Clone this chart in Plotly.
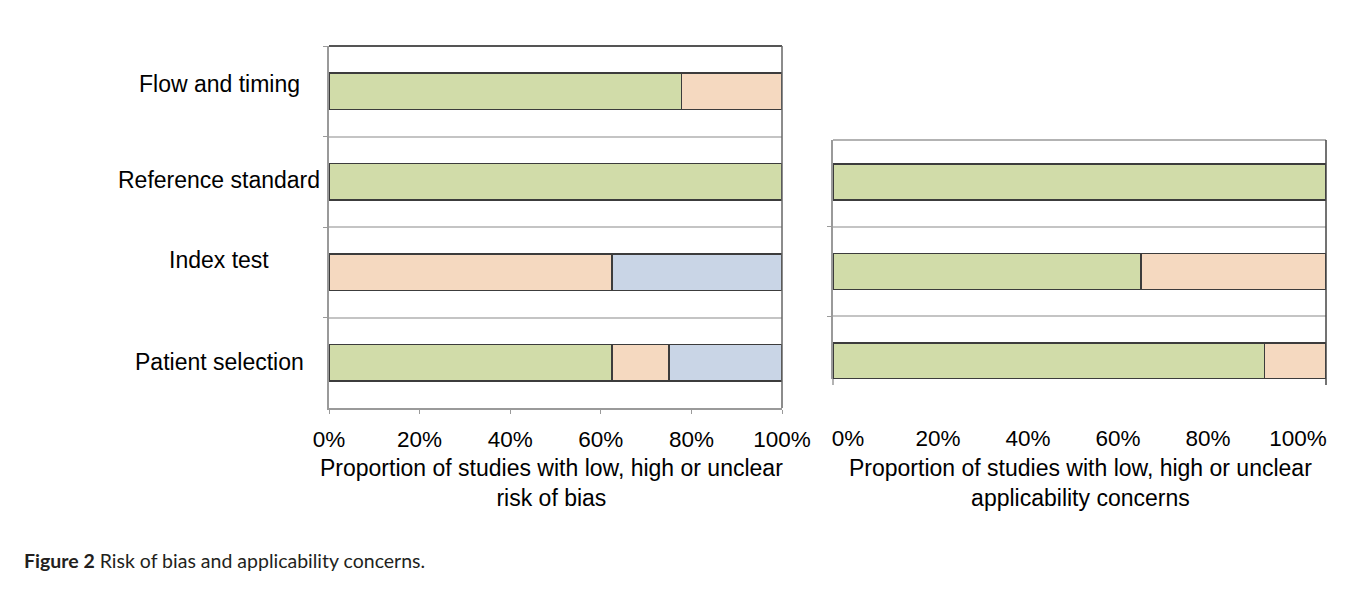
import plotly.graph_objects as go

# ---- data ----
bias_domains = ["Patient selection", "Index test", "Reference standard", "Flow and timing"]
bias_low = [62.5, 0, 100, 77.8]
bias_high = [12.5, 62.5, 0, 22.2]
bias_unclear = [25.0, 37.5, 0, 0]

appl_domains = ["Patient selection", "Index test", "Reference standard"]
appl_low = [87.5, 62.5, 100]
appl_high = [12.5, 37.5, 0]
appl_unclear = [0, 0, 0]

tick_vals = [0, 20, 40, 60, 80, 100]
tick_text = ["0%", "20%", "40%", "60%", "80%", "100%"]

colors = {"low": "#d1dca9", "high": "#f5d9c0", "unclear": "#c9d5e6"}
edge = "#3c3c3c"
FONT = "Liberation Sans, Arial, sans-serif"

fig = go.Figure()

def add_bars(domains, low, high, unclear, xa, ya):
    for name, vals, c in [("Low", low, colors["low"]), ("High", high, colors["high"]),
                          ("Unclear", unclear, colors["unclear"])]:
        fig.add_trace(go.Bar(
            y=domains, x=vals, orientation="h", name=name, width=0.4,
            marker=dict(color=c, line=dict(color=edge, width=1.5)),
            xaxis=xa, yaxis=ya, showlegend=False))

add_bars(bias_domains, bias_low, bias_high, bias_unclear, "x", "y")
add_bars(appl_domains, appl_low, appl_high, appl_unclear, "x2", "y2")

# invisible helper trace so the right panel's (offset) tick-label axis is drawn
fig.add_trace(go.Scatter(x=[0], y=[0], xaxis="x3", yaxis="y3", mode="markers",
                         marker=dict(opacity=0), hoverinfo="skip", showlegend=False))

OFF = 8  # page body margin
W, H = 1346, 595 - OFF
def px_x(p): return (p - OFF) / W
def px_y(p): return 1 - (p - OFF) / H

L_x0, L_x1, L_y0, L_y1 = 329, 782, 46, 408
R_x0, R_x1, R_y0, R_y1 = 833, 1326, 140, 379
R_lab0, R_lab1 = 848, 1298   # where the right panel's 0% and 100% labels sit

grid = "#c4c4c4"
axis_gray = "#9a9a9a"

fig.update_layout(
    width=W, height=H, margin=dict(l=0, r=0, t=0, b=0, autoexpand=False),
    paper_bgcolor="white", plot_bgcolor="rgba(0,0,0,0)",
    barmode="stack", font=dict(family=FONT, size=23, color="#000"),
    xaxis=dict(domain=[px_x(L_x0), px_x(L_x1)], range=[0, 100], tickvals=tick_vals,
               ticktext=tick_text, showgrid=False, zeroline=False, showline=True,
               linecolor=axis_gray, linewidth=1.5, ticks="outside", ticklen=4,
               tickcolor=axis_gray, ticklabelstandoff=6, anchor="y", automargin=False,
               ticklabeloverflow="allow", tickfont=dict(size=22.5)),
    yaxis=dict(domain=[px_y(L_y1), px_y(L_y0)], type="category", categoryarray=bias_domains,
               range=[-0.5, 3.5], tickson="boundaries", ticks="outside", ticklen=4,
               tickcolor=axis_gray, showgrid=True, gridcolor=grid, gridwidth=1.5,
               showticklabels=False, showline=True, linecolor=axis_gray, linewidth=1.5,
               zeroline=False, anchor="x", automargin=False),
    xaxis2=dict(domain=[px_x(R_x0), px_x(R_x1)], range=[0, 100], showticklabels=False,
                showgrid=False, zeroline=False, showline=False, ticks="", anchor="y2",
                automargin=False),
    yaxis2=dict(domain=[px_y(R_y1), px_y(R_y0)], type="category", categoryarray=appl_domains,
                range=[-0.2, 2.47], tickson="boundaries", ticks="outside", ticklen=4,
                tickcolor=axis_gray, showgrid=True, gridcolor=grid, gridwidth=1.5,
                showticklabels=False, showline=True, linecolor=axis_gray, linewidth=1.5,
                zeroline=False, anchor="x2", automargin=False),
    xaxis3=dict(domain=[px_x(R_lab0), px_x(R_lab1)], range=[0, 100], tickvals=tick_vals,
                ticktext=tick_text, showgrid=False, zeroline=False, showline=False,
                ticks="", ticklabelstandoff=38, anchor="y3", automargin=False,
                ticklabeloverflow="allow", tickfont=dict(size=22.5), fixedrange=True),
    yaxis3=dict(domain=[px_y(R_y1 + 5), px_y(R_y1 + 3)], visible=False, anchor="x3",
                automargin=False, fixedrange=True),
)

# plot-area borders (top and right edges)
fig.add_shape(type="line", xref="x domain", yref="y domain", x0=0, x1=1, y0=1, y1=1,
              line=dict(color="#555", width=2))
fig.add_shape(type="line", xref="x domain", yref="y domain", x0=1, x1=1, y0=0, y1=1,
              line=dict(color="#666", width=1.5))
fig.add_shape(type="line", xref="x2 domain", yref="y2 domain", x0=0, x1=1, y0=1, y1=1,
              line=dict(color=axis_gray, width=1.5))
fig.add_shape(type="line", xref="x2 domain", yref="y2 domain", x0=1, x1=1, y0=-0.025, y1=1,
              line=dict(color="#444", width=1.5))
fig.add_shape(type="line", xref="x2 domain", yref="y2 domain", x0=0, x1=0, y0=-0.025, y1=0,
              line=dict(color=axis_gray, width=1.5))

# category labels (centered, left of left panel)
label_shift = {"Flow and timing": 7, "Reference standard": 2, "Index test": 12, "Patient selection": 1}
for d in bias_domains:
    fig.add_annotation(text=d, xref="paper", yref="y", x=px_x(219), y=d,
                       xanchor="center", yanchor="middle", showarrow=False,
                       yshift=label_shift[d], font=dict(size=23))

# axis titles
fig.add_annotation(text="Proportion of studies with low, high or unclear<br>risk of bias",
                   xref="paper", yref="paper", x=px_x(551), y=px_y(483),
                   xanchor="center", yanchor="middle", showarrow=False,
                   font=dict(size=23))
fig.add_annotation(text="Proportion of studies with low, high or unclear<br>applicability concerns",
                   xref="paper", yref="paper", x=px_x(1080), y=px_y(483),
                   xanchor="center", yanchor="middle", showarrow=False,
                   font=dict(size=23))

# figure caption
fig.add_annotation(text="<b>Figure 2</b> Risk of bias and applicability concerns.",
                   xref="paper", yref="paper", x=px_x(22), y=px_y(560),
                   xanchor="left", yanchor="middle", showarrow=False,
                   font=dict(family="Lato, Open Sans, sans-serif", size=19.5, color="#231f20"))

fig.write_html("out.html")
